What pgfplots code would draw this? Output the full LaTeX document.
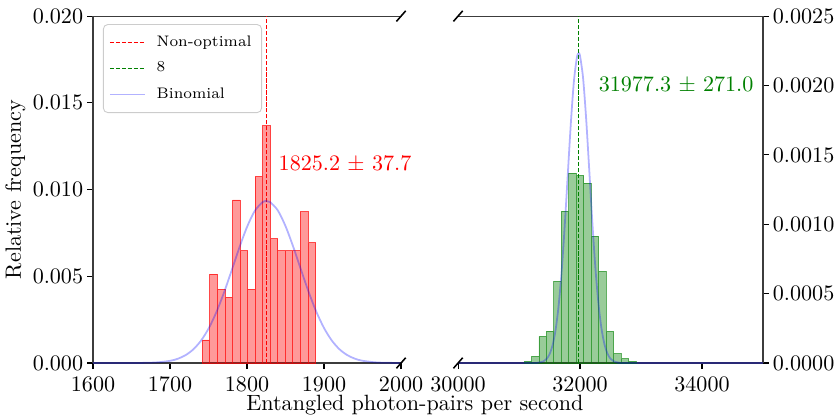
\documentclass[border=0pt]{standalone}
\usepackage{pgfplots}
\pgfplotsset{compat=1.18}
\definecolor{mplgreen}{RGB}{0,128,0}
\definecolor{mplred}{RGB}{255,0,0}
\definecolor{spine}{RGB}{60,60,60}
\pgfplotsset{
  common/.style={
    scale only axis, height=157pt, ymin=0, clip=false,
    tick align=outside, major tick length=2.7pt,
    axis x line*=box,
    axis line style={-, draw=spine, line width=0.5pt},
    every outer x axis line/.append style={-},
    every outer y axis line/.append style={-},
    every inner x axis line/.append style={-},
    every inner y axis line/.append style={-},
    every tick/.style={black, line width=0.5pt},
    scaled x ticks=false, scaled y ticks=false,
    xtick pos=bottom,
    xticklabel style={/pgf/number format/1000 sep={}},
    tick label style={font=\fontsize{10}{12}\selectfont},
    yticklabel style={inner xsep=1.6pt},
  },
  curve/.style={blue, opacity=0.3, line width=0.8pt, smooth},
  meanline/.style={dash pattern=on 1.9pt off 0.8pt, line width=0.5pt},
}
\begin{document}
\begin{tikzpicture}
\useasboundingbox (-42.1pt,-25.3pt) rectangle (336.7pt,164.3pt);
% ---------- left panel ----------
\begin{axis}[common, name=L, at={(0,0)}, anchor=south west,
  width=139.4pt, xmin=1600, xmax=2000, ymax=0.02,
  axis y line*=left, ytick pos=left,
  xtick={1600,1700,1800,1900,2000},
  ytick={0,0.005,0.01,0.015,0.02},
  yticklabel style={/pgf/number format/fixed, /pgf/number format/fixed zerofill, /pgf/number format/precision=3},
  legend cell align=left,
  legend image code/.code={\draw[#1] (0pt,0pt) -- (15.8pt,0pt);},
  legend style={at={(0,1)}, anchor=north west, xshift=4.5pt, yshift=-3.6pt,
    draw=black!20, rounded corners=2pt, fill=white,
    font=\fontsize{6.9}{8.3}\selectfont, row sep=1.6pt,
    /tikz/every odd column/.append style={column sep=3pt},
    inner xsep=2.5pt, inner ysep=3pt},
]
\addplot[ybar interval, fill=mplred, fill opacity=0.4, draw=mplred, draw opacity=0.7, line width=0.4pt, forget plot] coordinates {
(1742.0,0.00133) (1751.8,0.00513) (1761.6,0.00425) (1771.4,0.00379) (1781.2,0.00940)
(1791.0,0.00647) (1800.8,0.00425) (1810.6,0.01074) (1820.4,0.01368) (1830.2,0.00716)
(1840.0,0.00647) (1849.8,0.00647) (1859.6,0.00647) (1869.4,0.00872) (1879.2,0.00693)
(1889.0,0.00693)};
\addplot[color=mplred, meanline, forget plot] coordinates {(1825.2,0) (1825.2,0.02)};
\addplot[curve, forget plot] coordinates {
(1600,0) (1650,0.0000021) (1680,0.0000290) (1700,0.0001275) (1710,0.000246)
(1720,0.000450) (1730,0.000780) (1740,0.001278) (1750,0.001983) (1760,0.002914)
(1770,0.004053) (1780,0.005336) (1790,0.006651) (1800,0.007847) (1810,0.008766)
(1820,0.009269) (1825.2,0.009338) (1830,0.009279) (1840,0.008795) (1850,0.007890)
(1860,0.006701) (1870,0.005389) (1880,0.004101) (1890,0.002956) (1900,0.002017)
(1910,0.001303) (1920,0.000796) (1930,0.000461) (1940,0.000252) (1950,0.000131)
(1970,0.0000299) (2000,0.0000022)};
\node[text=mplred, anchor=west, inner sep=0pt, font=\fontsize{10}{12}\selectfont] at (axis cs:1840.6,0.01150) {1825.2 $\pm$ 37.7};
\addlegendimage{color=mplred, meanline}
\addlegendentry{Non-optimal}
\addlegendimage{color=mplgreen, meanline}
\addlegendentry{8}
\addlegendimage{color=blue, opacity=0.3, line width=0.8pt}
\addlegendentry{Binomial}
\end{axis}
% ---------- right panel ----------
\begin{axis}[common, name=R, at={(165.2pt,0)}, anchor=south west,
  width=138pt, xmin=30000, xmax=35000, ymax=0.0025,
  axis y line*=right, ytick pos=right,
  xtick={30000,32000,34000},
  ytick={0,0.0005,0.001,0.0015,0.002,0.0025},
  yticklabel style={/pgf/number format/fixed, /pgf/number format/fixed zerofill, /pgf/number format/precision=4},
]
\addplot[ybar interval, fill=mplgreen, fill opacity=0.4, draw=mplgreen, draw opacity=0.6, line width=0.4pt, forget plot] coordinates {
(31082.0,0.0000122) (31204.4,0.0000480) (31326.8,0.000192) (31449.2,0.000230) (31571.6,0.000589)
(31694.0,0.001095) (31816.4,0.001368) (31938.8,0.001353) (32061.2,0.001296) (32183.6,0.000915)
(32306.0,0.000661) (32428.4,0.000228) (32550.8,0.0000675) (32673.2,0.0000316) (32795.6,0.0000122)
(32918.0,0.0000122)};
\addplot[color=mplgreen, meanline, forget plot] coordinates {(31977.3,0) (31977.3,0.0025)};
\addplot[curve, forget plot] coordinates {
(30000,0) (31200,0) (31300,0.0000017) (31400,0.0000122) (31450,0.0000288) (31500,0.0000633)
(31550,0.0001284) (31600,0.000241) (31650,0.000418) (31700,0.000670) (31750,0.000995)
(31800,0.001365) (31850,0.001732) (31900,0.002032) (31950,0.002205) (31977.3,0.002231)
(32000,0.002213) (32050,0.002054) (32100,0.001763) (32150,0.001400) (32200,0.001027)
(32250,0.000697) (32300,0.000438) (32350,0.000254) (32400,0.0001365) (32450,0.0000678)
(32500,0.0000310) (32550,0.0000130) (32650,0.0000019) (32800,0) (35000,0)};
\node[text=mplgreen, anchor=west, inner sep=0pt, font=\fontsize{10}{12}\selectfont] at (axis cs:32300,0.002001) {31977.3 $\pm$ 271.0};
\end{axis}
% break marks
\foreach \c in {L.north east, L.south east, R.north west, R.south west}{
  \draw[black, line width=0.7pt] ([xshift=-2.1pt,yshift=-2.4pt]\c) -- ([xshift=2.1pt,yshift=2.4pt]\c);
}
% labels
\node[rotate=90, anchor=base, font=\fontsize{10}{12}\selectfont] at (-32.6pt,78.5pt) {Relative frequency};
\node[anchor=base, font=\fontsize{10}{12}\selectfont] at (145.7pt,-21.3pt) {Entangled photon-pairs per second};
\end{tikzpicture}
\end{document}
